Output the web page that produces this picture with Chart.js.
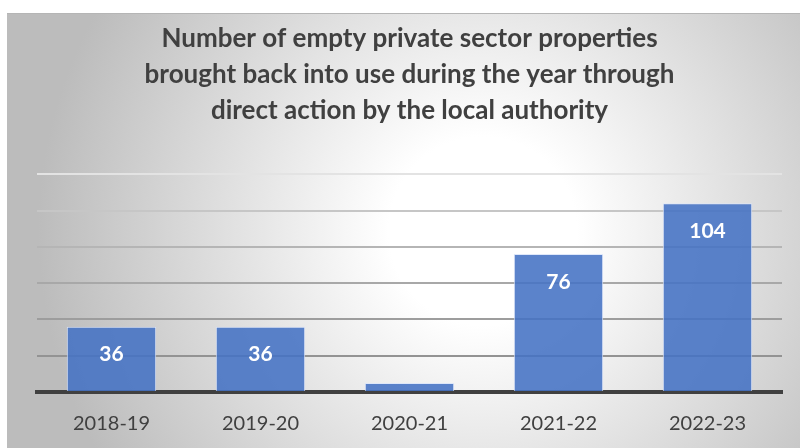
<!DOCTYPE html>
<html>
<head>
<meta charset="utf-8">
<script src="https://cdn.jsdelivr.net/npm/chart.js@4.4.1/dist/chart.umd.min.js"></script>
<style>
  html, body { margin: 0; padding: 0; background: #ffffff; }
  #wrap {
    position: absolute; left: 7px; top: 13px; width: 793px; height: 435px;
    background: radial-gradient(circle at 60% 50%, #ffffff 0%, #ffffff 18%, #bcbcbc 85%);
    border-top: 1px solid #b5b5b5;
    box-sizing: border-box;
  }
  canvas { display: block; }
</style>
</head>
<body>
<div id="wrap"><canvas id="c" width="793" height="434"></canvas></div>
<script>
const categories = ['2018-19', '2019-20', '2020-21', '2021-22', '2022-23'];
const values = [36, 36, 5, 76, 104];
const shownLabels = ['36', '36', '', '76', '104'];
const titleLines = [
  'Number of empty private sector properties',
  'brought back into use during the year through',
  'direct action by the local authority'
];

const FONT = 'Lato, "Open Sans", sans-serif';

const gridShades = { 0: '#8f8f8f', 20: '#939393', 40: '#9d9d9d', 60: '#a8a8a8', 80: '#b5b5b5', 100: '#c6c6c6', 120: '#e3e3e3' };

const labelPlugin = {
  id: 'barLabels',
  afterDatasetsDraw(chart) {
    const ctx = chart.ctx;
    const meta = chart.getDatasetMeta(0);
    ctx.save();
    ctx.fillStyle = '#ffffff';
    ctx.font = 'bold 21px ' + FONT;
    ctx.textAlign = 'center';
    ctx.textBaseline = 'middle';
    meta.data.forEach((bar, i) => {
      const t = shownLabels[i];
      if (!t) return;
      ctx.fillText(t, bar.x, bar.y + 28);
    });
    ctx.restore();
  }
};

new Chart(document.getElementById('c'), {
  type: 'bar',
  data: {
    labels: categories,
    datasets: [{
      data: values,
      backgroundColor: 'rgba(68,114,196,0.88)',
      borderColor: 'rgba(220,230,250,0.9)',
      borderWidth: 1,
      categoryPercentage: 1.0,
      barPercentage: 0.6
    }]
  },
  options: {
    responsive: false,
    animation: false,
    layout: { padding: { left: 30, right: 18, top: 0, bottom: 0 } },
    plugins: {
      legend: { display: false },
      tooltip: { enabled: false },
      title: {
        display: true,
        text: titleLines,
        color: '#404040',
        font: { family: FONT, size: 26, weight: 'bold', lineHeight: 1.4 },
        padding: { top: 6, bottom: 45 }
      }
    },
    scales: {
      x: {
        afterFit(s) { s.height = 56; },
        grid: { display: false, drawTicks: false },
        border: { display: true, color: '#404040', width: 4 },
        ticks: { color: '#404040', font: { family: FONT, size: 20 }, padding: 20 }
      },
      y: {
        min: 0, max: 120,
        afterFit(s) { s.width = 0; },
        ticks: { display: false, stepSize: 20 },
        border: { display: false },
        grid: {
          drawTicks: false,
          lineWidth: 2,
          color: (c) => gridShades[c.tick ? c.tick.value : 0] || '#b0b0b0'
        }
      }
    }
  },
  plugins: [labelPlugin]
});
</script>
</body>
</html>
